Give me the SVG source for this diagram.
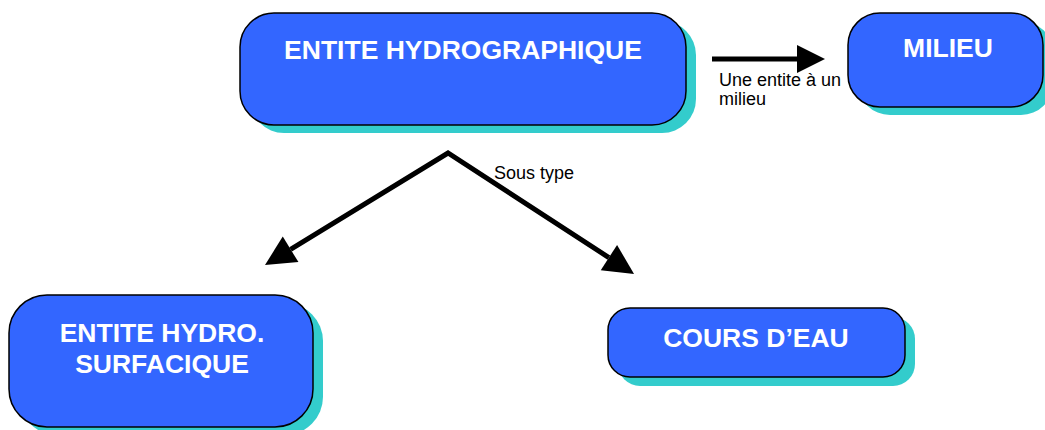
<svg xmlns="http://www.w3.org/2000/svg" width="1045" height="430" viewBox="0 0 1045 430">
  <style>
    .shadow { fill: #33CCCC; }
    .box { fill: #3366FF; stroke: #000000; stroke-width: 1.5; }
    .title { font-family: "Liberation Sans", Arial, sans-serif; font-weight: bold; font-size: 26.5px; fill: #FFFFFF; text-anchor: middle; }
    .label { font-family: "Liberation Sans", Arial, sans-serif; font-size: 18px; fill: #000000; }
    .link { fill: none; stroke: #000000; stroke-width: 5; stroke-linejoin: miter; }
  </style>
  <defs>
    <marker id="head" markerUnits="userSpaceOnUse" markerWidth="32" markerHeight="32" refX="0" refY="15" orient="auto-start-reverse" overflow="visible">
      <path d="M0,0 L30,15 L0,30 Z" fill="#000000"/>
    </marker>
    <marker id="headSmall" markerUnits="userSpaceOnUse" markerWidth="30" markerHeight="30" refX="0" refY="14" orient="auto" overflow="visible">
      <path d="M0,0 L28,14 L0,28 Z" fill="#000000"/>
    </marker>
  </defs>

  <!-- connectors -->
  <g id="connectors">
    <path class="link" d="M712,59 L797,59" marker-end="url(#headSmall)"/>
    <path class="link" d="M290.6,249.3 L448,153 L608.9,257.6" marker-start="url(#head)" marker-end="url(#head)"/>
    <text class="label" x="719" y="86">Une entite à un</text>
    <text class="label" x="719" y="105">milieu</text>
    <text class="label" x="494" y="179">Sous type</text>
  </g>

  <!-- nodes -->
  <g id="entite-hydrographique">
    <rect class="shadow" x="250" y="21" width="446" height="112" rx="34"/>
    <rect class="box" x="240" y="13" width="446" height="112" rx="34"/>
    <text class="title" x="463" y="59">ENTITE HYDROGRAPHIQUE</text>
  </g>

  <g id="milieu">
    <rect class="shadow" x="858" y="21" width="195" height="94" rx="32"/>
    <rect class="box" x="848" y="13" width="195" height="94" rx="32"/>
    <text class="title" x="948" y="57">MILIEU</text>
  </g>

  <g id="entite-hydro-surfacique">
    <rect class="shadow" x="19" y="303" width="304" height="132" rx="38"/>
    <rect class="box" x="9" y="295" width="304" height="132" rx="38"/>
    <text class="title" x="162" y="342">ENTITE HYDRO.</text>
    <text class="title" x="162" y="373">SURFACIQUE</text>
  </g>

  <g id="cours-d-eau">
    <rect class="shadow" x="618" y="317" width="297" height="69" rx="22"/>
    <rect class="box" x="608" y="308" width="297" height="69" rx="22"/>
    <text class="title" x="756" y="347">COURS D’EAU</text>
  </g>
</svg>
